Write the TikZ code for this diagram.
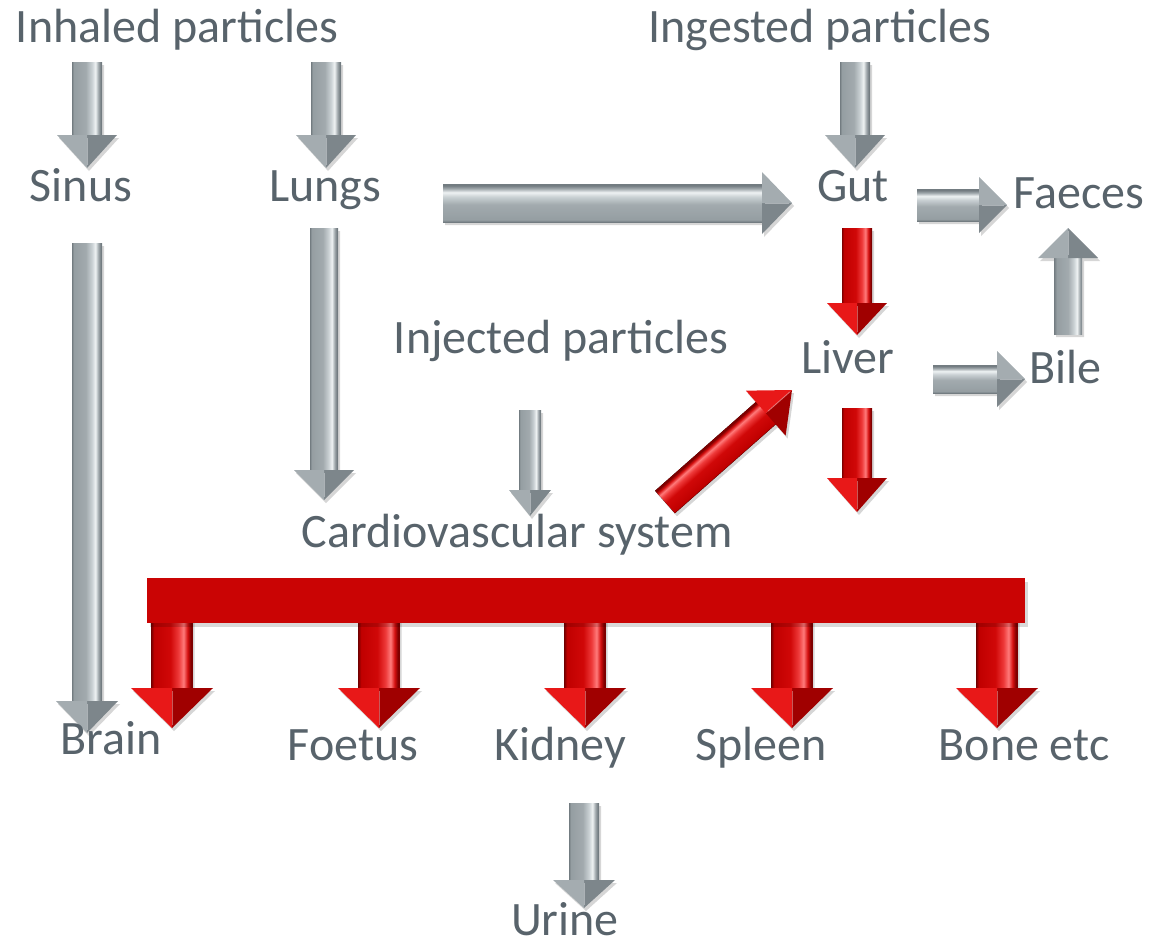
\documentclass[tikz,border=0pt]{standalone}
\usepackage{fontspec}
\setmainfont{Carlito}
\definecolor{txt}{HTML}{58636B}
\definecolor{gE}{HTML}{737C81}
\definecolor{gB}{HTML}{959EA2}
\definecolor{gBb}{HTML}{A2AAAE}
\definecolor{gLa}{HTML}{C9D0D3}
\definecolor{gLb}{HTML}{EEF2F3}
\definecolor{gBc}{HTML}{A0A8AC}
\definecolor{rE}{HTML}{7E0000}
\definecolor{rB}{HTML}{C00000}
\definecolor{rBb}{HTML}{D00808}
\definecolor{rLa}{HTML}{EE3A3A}
\definecolor{rLb}{HTML}{FF7A7A}
\definecolor{rBc}{HTML}{D41010}
\definecolor{grayhl}{HTML}{A4ACB0}
\definecolor{grayhd}{HTML}{7D868B}
\definecolor{redhl}{HTML}{E81818}
\definecolor{redhd}{HTML}{A00000}
\definecolor{barred}{HTML}{CA0404}
\colorlet{grayrhl}{grayhl}
\colorlet{grayrhd}{grayhd}
\pgfdeclareverticalshading{grayshaft}{100bp}{color(0bp)=(gE); color(25bp)=(gE); color(28bp)=(gB); color(48bp)=(gBb); color(58bp)=(gLa); color(64bp)=(gLb); color(69bp)=(gBc); color(73bp)=(gE); color(100bp)=(gE)}
\pgfdeclareverticalshading{grayrshaft}{100bp}{color(0bp)=(gE); color(25bp)=(gE); color(29bp)=(gBc); color(34bp)=(gLb); color(40bp)=(gLa); color(50bp)=(gBb); color(70bp)=(gB); color(75bp)=(gE); color(100bp)=(gE)}
\pgfdeclareverticalshading{redshaft}{100bp}{color(0bp)=(rE); color(25bp)=(rE); color(28bp)=(rB); color(48bp)=(rBb); color(58bp)=(rLa); color(64bp)=(rLb); color(69bp)=(rBc); color(73bp)=(rE); color(100bp)=(rE)}
% #1 x0, #2 y0, #3 x1, #4 y1, #5 half shaft, #6 half head, #7 head length, #8 kind
\newcommand\barrow[8]{%
  \pgfmathsetmacro\bdx{#3-#1}%
  \pgfmathsetmacro\bdy{#4-#2}%
  \pgfmathsetmacro\bL{veclen(\bdx,\bdy)}%
  \pgfmathsetmacro\bang{atan2(-\bdy,\bdx)}%
  \pgfmathsetmacro\bB{\bL-#7}%
  \pgfmathsetmacro\bsg{sin(\bang)+cos(\bang)}%
  \ifdim\bsg pt>0pt \def\bup{1}\else\def\bup{-1}\fi
  \begin{scope}[transform canvas={shift={({#1pt+2pt},{-#2pt-3pt})},rotate=\bang},x=1pt,y=1pt]
    \fill[black,opacity=.16] (0,-#5) -- (\bB,-#5) -- (\bB,-#6) -- (\bL,0) -- (\bB,#6) -- (\bB,#5) -- (0,#5) -- cycle;
  \end{scope}
  \begin{scope}[transform canvas={shift={(#1pt,-#2pt)},rotate=\bang},x=1pt,y=1pt]
    \fill[shading=#8shaft] (0,-#5) rectangle (\bB+0.5,#5);
    \fill[#8hd] (\bB,{-\bup*#6}) -- (\bL,0) -- (\bB,0) -- cycle;
    \fill[#8hl] (\bB,{\bup*#6}) -- (\bL,0) -- (\bB,0) -- cycle;
    \draw[white,opacity=.35,line width=1pt] (\bB+3,0) -- (\bL-3,0);
  \end{scope}
}
\tikzset{lbl/.style={text=txt,font=\fontsize{48}{57}\selectfont,anchor=base,inner sep=0pt}}
\begin{document}
\begin{tikzpicture}[x=1pt,y=-1pt]
\useasboundingbox (0,0) rectangle (1161,945);
% gray arrows
\barrow{87}{62}{87}{168}{15}{30}{33}{gray}
\barrow{326}{62}{326}{168}{15}{30}{33}{gray}
\barrow{855}{62}{855}{168}{15}{30}{33}{gray}
\barrow{443}{203}{792}{203}{19}{31}{30}{gray}
\barrow{917}{205}{1007}{205}{16}{28}{28}{gray}
\barrow{933}{379}{1025}{379}{14}{28}{28}{gray}
\barrow{1068}{334}{1068}{228}{14}{30}{30}{grayr}
\barrow{87}{243}{87}{733}{15}{31}{32}{gray}
\barrow{324}{228}{324}{500}{14}{30}{30}{gray}
\barrow{530}{410}{530}{516}{11}{21}{26}{gray}
\barrow{584}{803}{584}{908}{15}{31}{28}{gray}
% red arrows
\barrow{857}{228}{857}{335}{15}{30}{32}{red}
\barrow{857}{408}{857}{512}{15}{30}{34}{red}
\barrow{665}{502}{792}{390}{15}{30}{35}{red}
\barrow{172}{618}{172}{728}{20.5}{41}{40}{red}
\barrow{379}{618}{379}{728}{20.5}{41}{40}{red}
\barrow{585}{618}{585}{728}{20.5}{41}{40}{red}
\barrow{792}{618}{792}{728}{20.5}{41}{40}{red}
\barrow{997}{618}{997}{728}{20.5}{41}{40}{red}
% red bar
\fill[black,opacity=.15] (150,582) rectangle (1028,627);
\fill[barred] (147,578) rectangle (1025,623);
% labels
\node[lbl] (inhaled) at (177,42) {Inhaled particles};
\node[lbl] (ingested) at (820,42) {Ingested particles};
\node[lbl] (sinus) at (81,201) {Sinus};
\node[lbl] (lungs) at (325,201) {Lungs};
\node[lbl] (gut) at (853,201) {Gut};
\node[lbl] (faeces) at (1079,208) {Faeces};
\node[lbl] (liver) at (848,373) {Liver};
\node[lbl] (bile) at (1065,383) {Bile};
\node[lbl] (injected) at (561,353) {Injected particles};
\node[lbl] (cardio) at (517,547) {Cardiovascular system};
\node[lbl] (brain) at (111,754) {Brain};
\node[lbl] (foetus) at (353,760) {Foetus};
\node[lbl] (kidney) at (560,760) {Kidney};
\node[lbl] (spleen) at (761,760) {Spleen};
\node[lbl] (bone) at (1024,760) {Bone etc};
\node[lbl] (urine) at (565,935) {Urine};
\end{tikzpicture}
\end{document}
